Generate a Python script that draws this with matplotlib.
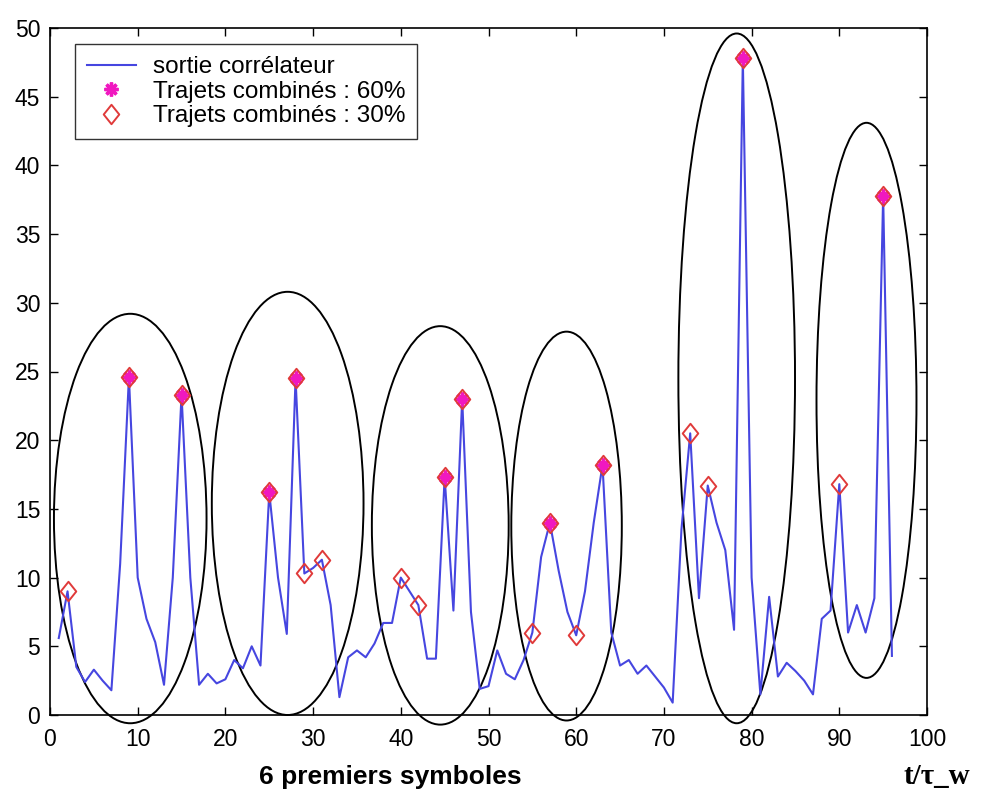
import matplotlib
matplotlib.use("Agg")
import matplotlib.pyplot as plt
from matplotlib.patches import Ellipse
from matplotlib.path import Path
import numpy as np

# correlator output, sampled at integer t/tau_w
t = list(range(1, 97))
sortie = [5.6, 9.0, 3.5, 2.4, 3.3, 2.5, 1.8, 11.0, 24.6, 10.0,
          7.0, 5.3, 2.2, 10.0, 23.3, 10.0, 2.2, 3.0, 2.3, 2.6,
          4.0, 3.4, 5.0, 3.6, 16.2, 10.0, 5.9, 24.5, 10.3, 10.7,
          11.3, 8.0, 1.3, 4.2, 4.7, 4.2, 5.2, 6.7, 6.7, 10.0,
          9.0, 8.0, 4.1, 4.1, 17.3, 7.6, 23.0, 7.5, 1.9, 2.1,
          4.7, 3.0, 2.6, 4.0, 6.0, 11.5, 14.0, 10.5, 7.5, 5.8,
          9.0, 14.0, 18.2, 6.0, 3.6, 4.0, 3.0, 3.6, 2.8, 2.0,
          0.9, 13.5, 20.5, 8.5, 16.7, 14.0, 12.0, 6.2, 47.8, 10.0,
          1.5, 8.6, 2.8, 3.8, 3.2, 2.5, 1.5, 7.0, 7.6, 16.8,
          6.0, 8.0, 6.0, 8.5, 37.8, 4.3]

# detected combined paths
t60 = [9, 15, 25, 28, 45, 47, 57, 63, 79, 95]
t30 = [2, 9, 15, 25, 28, 29, 31, 40, 42, 45, 47, 55, 57, 60, 63, 73, 75, 79, 90, 95]

# grouping ellipses: centre x, centre y, width, height (data units)
ell_cx = [9.15, 27.1, 44.5, 58.9, 78.3, 93.1]
ell_cy = [14.3, 15.4, 13.8, 13.75, 24.5, 22.9]
ell_w = [17.4, 17.3, 15.6, 12.6, 13.3, 11.4]
ell_h = [29.8, 30.8, 29.0, 28.3, 50.2, 40.4]

legend_labels = ["sortie corrélateur", "Trajets combinés : 60%", "Trajets combinés : 30%"]

plt.rcParams['font.family'] = ['Liberation Sans', 'DejaVu Sans']

fig = plt.figure(figsize=(9.81, 7.92), dpi=100)
ax = fig.add_axes([50/981, (792-715)/792, 877/981, 687/792])

lookup = dict(zip(t, sortie))
y60 = [lookup[k] for k in t60]
y30 = [lookup[k] for k in t30]

diamond = Path([(0, 1), (0.8, 0), (0, -1), (-0.8, 0), (0, 1)],
               [Path.MOVETO, Path.LINETO, Path.LINETO, Path.LINETO, Path.CLOSEPOLY])

ax.plot(t, sortie, color='#4646e0', lw=1.5, label=legend_labels[0], zorder=3)
ax.plot(t60, y60, ls='none', marker=(8, 2, 0), ms=10, mew=2.4,
        color='#f018c0', label=legend_labels[1], zorder=4)
ax.plot(t30, y30, ls='none', marker=diamond, ms=14, mew=1.4,
        mec='#e03a3a', mfc='none', label=legend_labels[2], zorder=5)

for cx, cy, w, h in zip(ell_cx, ell_cy, ell_w, ell_h):
    e = Ellipse((cx, cy), w, h, fill=False, ec='black', lw=1.4,
                clip_on=False, zorder=2)
    ax.add_patch(e)

ax.set_xlim(0, 100)
ax.set_ylim(0, 50)
ax.set_xticks(np.arange(0, 101, 10))
ax.set_yticks(np.arange(0, 51, 5))
ax.tick_params(direction='in', top=True, right=True, length=6,
               labelsize=16.5, width=1)
ax.tick_params(axis='x', pad=9)
ax.tick_params(axis='y', pad=7)
for s in ax.spines.values():
    s.set_linewidth(1.2)

leg = ax.legend(loc='upper left', bbox_to_anchor=(25/877, 1 - 16/687),
                fontsize=17.5, frameon=True, fancybox=False, edgecolor='black',
                borderpad=0.5, labelspacing=0.1, handlelength=2.0,
                handletextpad=0.7, borderaxespad=0)
leg.get_frame().set_linewidth(1.0)

fig.text(390/981, 1 - 777/792, "6 premiers symboles", ha='center', va='center',
         fontsize=19, fontweight='bold')
fig.text(937/981, 1 - 777/792, "t/τ_w", ha='center', va='center',
         fontsize=21, fontweight='bold', family=['Liberation Serif', 'DejaVu Serif'])

fig.savefig("out.png", dpi=100)
